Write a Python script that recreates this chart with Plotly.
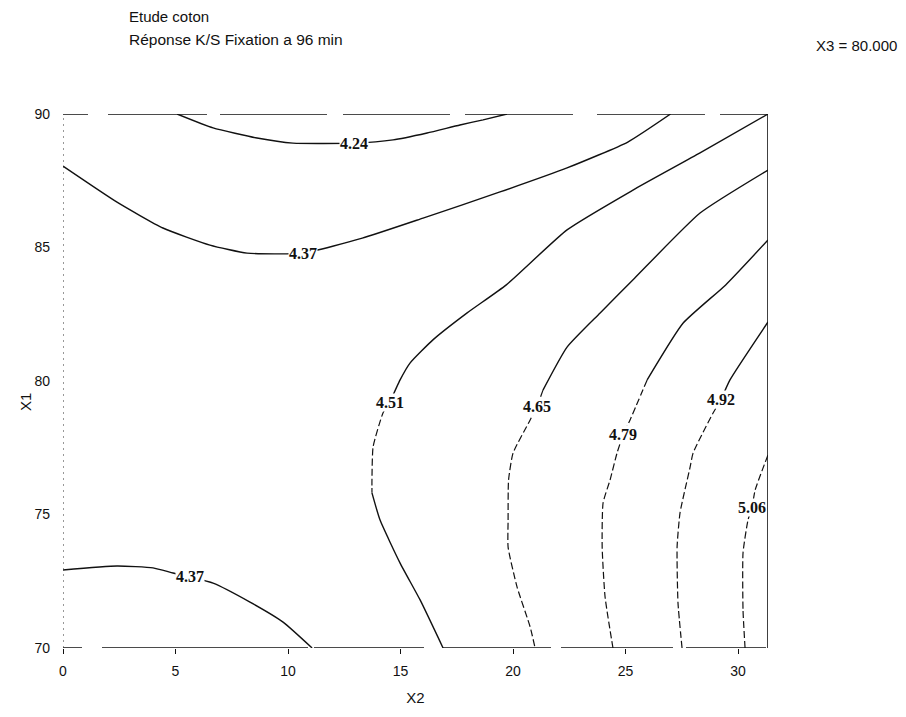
import plotly.graph_objects as go

# ---------------- data ----------------
x2_range = [0, 31.33]
x1_range = [70, 90]
x2_ticks = [0, 5, 10, 15, 20, 25, 30]
x1_ticks = [70, 75, 80, 85, 90]

c424_x2 = [5.07, 6.67, 8.62, 10.22, 12.93, 14.67, 16.18, 17.64, 18.67, 19.73]
c424_x1 = [90.0, 89.48, 89.10, 88.91, 88.91, 89.03, 89.29, 89.59, 89.78, 90.0]

c437a_x2 = [0.0, 2.40, 4.44, 6.53, 8.18, 10.67, 13.30, 16.00, 19.42, 22.40, 25.10, 27.00]
c437a_x1 = [88.05, 86.70, 85.73, 85.09, 84.79, 84.79, 85.35, 86.10, 87.08, 87.98, 88.95, 90.0]

c437b_x2 = [0.0, 2.40, 4.00, 4.89, 5.64, 6.67, 8.31, 9.78, 11.07]
c437b_x1 = [72.92, 73.07, 73.00, 72.81, 72.66, 72.43, 71.72, 70.97, 70.0]

c451_x2 = [31.33, 28.31, 25.33, 22.40, 19.70, 17.96, 16.44, 15.42, 14.98, 14.53, 14.22, 13.78, 13.73, 13.73, 14.09, 14.98, 15.87, 16.89]
c451_x1 = [90.0, 88.54, 87.15, 85.66, 83.60, 82.55, 81.54, 80.67, 80.04, 79.21, 78.80, 77.53, 76.29, 75.81, 74.79, 73.18, 71.80, 70.0]

c465_x2 = [31.33, 28.31, 25.40, 23.87, 22.40, 21.33, 21.07, 20.76, 20.00, 19.80, 19.78, 19.78, 20.18, 20.76, 20.98]
c465_x1 = [87.90, 86.29, 83.85, 82.55, 81.27, 79.66, 79.06, 78.54, 77.30, 76.29, 74.79, 73.78, 72.28, 70.79, 70.0]

c479_x2 = [31.33, 29.45, 27.56, 25.96, 25.20, 24.89, 24.62, 24.31, 24.00, 23.96, 24.09, 24.44]
c479_x1 = [85.28, 83.60, 82.17, 80.04, 78.54, 77.98, 77.30, 76.29, 75.43, 73.78, 71.91, 70.0]

c492_x2 = [31.33, 29.64, 29.24, 28.89, 28.00, 27.87, 27.42, 27.29, 27.33, 27.51]
c492_x1 = [82.21, 80.04, 79.29, 78.80, 77.30, 76.78, 75.06, 73.78, 71.69, 70.0]

c506_x2 = [31.33, 30.76, 30.62, 30.44, 30.22, 30.22, 30.31]
c506_x1 = [77.23, 75.92, 75.28, 74.79, 73.56, 71.42, 70.0]

label_text = ["4.24", "4.37", "4.37", "4.51", "4.65", "4.79", "4.92", "5.06"]
label_x2 = [12.93, 10.67, 5.64, 14.53, 21.07, 24.89, 29.24, 30.62]
label_x1 = [88.91, 84.79, 72.66, 79.21, 79.06, 77.98, 79.29, 75.28]

# ---------------- style ----------------
curves = [
    (c424_x2, c424_x1, None),
    (c437a_x2, c437a_x1, None),
    (c437b_x2, c437b_x1, None),
    (c451_x2, c451_x1, (9, 13)),
    (c465_x2, c465_x1, (5, None)),
    (c479_x2, c479_x1, (3, None)),
    (c492_x2, c492_x1, (2, None)),
    (c506_x2, c506_x1, (0, None)),
]
INK = "#111111"
fig = go.Figure()

def add_line(xs, ys, dash):
    fig.add_trace(go.Scatter(
        x=xs, y=ys, mode="lines", hoverinfo="skip", showlegend=False,
        line=dict(color=INK, width=1.4 if dash == "solid" else 1.2, dash=dash,
                  shape="spline", smoothing=0.5)))

for xs, ys, split in curves:
    if split is None:
        add_line(xs, ys, "solid")
        continue
    a, b = split
    if a > 0:
        add_line(xs[:a + 1], ys[:a + 1], "solid")
    end = len(xs) if b is None else b + 1
    add_line(xs[a:end], ys[a:end], "7px,3px")
    if b is not None:
        add_line(xs[b:], ys[b:], "solid")

for t, lx, ly in zip(label_text, label_x2, label_x1):
    fig.add_annotation(x=lx, y=ly, xref="x", yref="y", text="<b>" + t + "</b>", showarrow=False,
                       font=dict(family="Liberation Serif", size=16, color=INK),
                       bgcolor="white", borderpad=0)

# frame (scanned look: broken top/bottom lines, faded left axis)
fig.add_shape(type="line", xref="x", yref="y", x0=x2_range[0], x1=x2_range[1], y0=90, y1=90,
              line=dict(color=INK, width=1.6,
                        dash="25px,20px,99px,13px,107px,16px,107px,15px,108px,24px,108px,15px,60px,10px"))
fig.add_shape(type="line", xref="x", yref="y", x0=x2_range[0], x1=x2_range[1], y0=70, y1=70,
              line=dict(color=INK, width=1.6,
                        dash="19px,20px,206px,6px,110px,19px,108px,10px,112px,13px,80px,5px"))
fig.add_shape(type="line", xref="x", yref="y", x0=x2_range[1], x1=x2_range[1], y0=70, y1=90,
              line=dict(color=INK, width=1.6))
fig.add_shape(type="line", xref="x", yref="y", x0=0, x1=0, y0=70, y1=90,
              line=dict(color="#333333", width=1, dash="2px,4px"))

# the page is drawn with an 8px body margin; paper coords below are relative to the plot area
PL, PT, PW, PH = 63, 114, 705, 534
def px(xp):
    return (xp - PL) / PW
def py(yp):
    return (PT + PH - yp) / PH

fig.add_annotation(xref="paper", yref="paper", x=px(127), y=py(16),
                   text="Etude coton", showarrow=False, xanchor="left", yanchor="middle",
                   font=dict(family="Liberation Sans", size=15, color=INK))
fig.add_annotation(xref="paper", yref="paper", x=px(127), y=py(39),
                   text="Réponse K/S Fixation a 96 min", showarrow=False, xanchor="left",
                   yanchor="middle", font=dict(family="Liberation Sans", size=15.5, color=INK))
fig.add_annotation(xref="paper", yref="paper", x=px(899), y=py(45),
                   text="X3 = 80.000", showarrow=False, xanchor="right", yanchor="middle",
                   font=dict(family="Liberation Sans", size=15, color=INK))
fig.add_annotation(xref="paper", yref="paper", x=px(25), y=py(402),
                   text="X1", showarrow=False, textangle=-90, xanchor="center", yanchor="middle",
                   font=dict(family="Liberation Sans", size=15, color=INK))

fig.update_layout(
    width=898, height=709,
    margin=dict(l=55, r=138, t=106, b=69, pad=0),
    paper_bgcolor="white", plot_bgcolor="white",
    xaxis=dict(range=x2_range, tickvals=x2_ticks, ticks="outside", ticklen=5, tickcolor=INK,
               showgrid=False, zeroline=False, showline=False, ticklabelstandoff=5,
               tickfont=dict(family="Liberation Sans", size=14, color=INK),
               title=dict(text="X2", font=dict(family="Liberation Sans", size=15, color=INK),
                          standoff=14)),
    yaxis=dict(range=x1_range, tickvals=x1_ticks, ticks="", showgrid=False, zeroline=False,
               showline=False, ticklabelstandoff=12,
               tickfont=dict(family="Liberation Sans", size=14, color=INK)),
)

fig.write_html("out.html")
